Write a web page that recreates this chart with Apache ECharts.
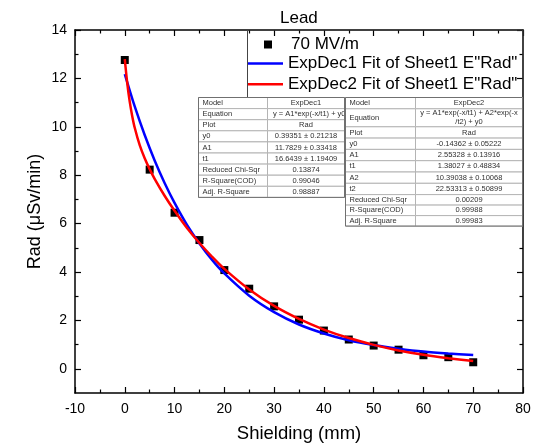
<!DOCTYPE html>
<html>
<head>
<meta charset="utf-8">
<script src="https://cdn.jsdelivr.net/npm/echarts@6/dist/echarts.min.js"></script>
<style>html,body{margin:0;padding:0;background:#fff}#c{width:536px;height:447px}</style>
</head>
<body>
<div id="c"></div>
<script>
// ---- data ----
const shielding = [0,5,10,15,20,25,30,35,40,45,50,55,60,65,70];
const rad = [12.76,8.23,6.45,5.32,4.08,3.31,2.58,2.03,1.58,1.21,0.96,0.79,0.56,0.48,0.27];
const fit1X = [0,2,4,6,8,10,12.5,15,17.5,20,25,30,35,40,45,50,55,60,65,70];
const fit1Y = [12.18,10.84,9.66,8.61,7.68,6.86,5.95,5.18,4.51,3.94,3.02,2.34,1.83,1.46,1.18,0.98,0.83,0.71,0.63,0.57];
const fit2X = [0,0.5,1,1.5,2,3,4,5,6,8,10,12.5,15,17.5,20,25,30,35,40,45,50,55,60,65,70];
const fit2Y = [12.80,11.80,11.03,10.44,9.96,9.24,8.70,8.25,7.85,7.15,6.53,5.82,5.20,4.64,4.13,3.28,2.60,2.06,1.62,1.27,0.99,0.76,0.58,0.44,0.32];
const yMajorTicks = [0,2,4,6,8,10,12,14];
const yMinorTicks = [1,3,5,7,9,11,13];
const xMinorTicks = [-5,5,15,25,35,45,55,65,75];
const seriesNames = ['70 MV/m', 'ExpDec1 Fit of Sheet1 E"Rad"', 'ExpDec2 Fit of Sheet1 E"Rad"'];
const table1Labels = ['Model','Equation','Plot','y0','A1','t1','Reduced Chi-Sqr','R-Square(COD)','Adj. R-Square'];
const table1Values = ['ExpDec1','y = A1*exp(-x/t1) + y0','Rad','0.39351 \u00b1 0.21218','11.7829 \u00b1 0.33418','16.6439 \u00b1 1.19409','0.13874','0.99046','0.98887'];
const table2Labels = ['Model','Equation','Plot','y0','A1','t1','A2','t2','Reduced Chi-Sqr','R-Square(COD)','Adj. R-Square'];
const table2Values = ['ExpDec2','y = A1*exp(-x/t1) + A2*exp(-x\n/t2) + y0','Rad','-0.14362 \u00b1 0.05222','2.55328 \u00b1 0.13916','1.38027 \u00b1 0.48834','10.39038 \u00b1 0.10068','22.53313 \u00b1 0.50899','0.00209','0.99988','0.99983'];

const pts = shielding.map((x,i)=>[x, rad[i]]);
const f1 = fit1X.map((x,i)=>[x, fit1Y[i]]);
const f2 = fit2X.map((x,i)=>[x, fit2Y[i]]);

const FONT = 'Liberation Sans, Arial, sans-serif';

function buildTable(labels, values, x0, xs, x1, top, heights, z, valueAlignLeftX) {
  const els = [];
  let y = top;
  const textStyle = {fontSize: 7.5, fontFamily: FONT, fill: '#303030'};
  labels.forEach((lab, i) => {
    const h = heights[i];
    els.push({type:'rect', z: z, shape:{x:x0, y:y, width:xs-x0, height:h}, style:{fill:'#fff', stroke:'#b4b4b4', lineWidth:1}});
    els.push({type:'rect', z: z, shape:{x:xs, y:y, width:x1-xs, height:h}, style:{fill:'#fff', stroke:'#b4b4b4', lineWidth:1}});
    els.push({type:'text', z: z, style: Object.assign({text: lab, x: x0+4, y: y+h/2, align:'left', verticalAlign:'middle'}, textStyle)});
    const v = values[i];
    if (valueAlignLeftX && lab === 'Equation') {
      els.push({type:'text', z: z, style: Object.assign({text: v, x: valueAlignLeftX, y: y+h/2, align:'left', verticalAlign:'middle'}, textStyle)});
    } else {
      els.push({type:'text', z: z, style: Object.assign({text: v, x: (xs+x1)/2, y: y+h/2, align:'center', verticalAlign:'middle', lineHeight: 9}, textStyle)});
    }
    y += h;
  });
  els.push({type:'rect', z: z, shape:{x:x0, y:top, width:x1-x0, height:y-top}, style:{fill:'none', stroke:'#707070', lineWidth:1}});
  return els;
}

const t1Heights = table1Labels.map(()=>11.1);
const t2Heights = [11.3,18,11.3,11.3,11.3,11.3,11.3,11.3,10.5,10.5,10.5];

const graphics = [
  {type:'rect', z: 5, shape:{x:247.5, y:30, width:275.5, height:72}, style:{fill:'none', stroke:'#444', lineWidth:1}}
].concat(
  buildTable(table1Labels, table1Values, 198.5, 267.5, 344.5, 97.5, t1Heights, 10, 273)
).concat(
  buildTable(table2Labels, table2Values, 345.5, 415.5, 522.5, 97.5, t2Heights, 11, null)
);

const lineBlack = {color: '#000', width: 1.5};
const tickStyle = {color: '#000', width: 1.2};

function majorAxis(pos, extra) {
  return Object.assign({
    type: 'value', position: pos,
    axisLine: {show: true, onZero: false, lineStyle: lineBlack},
    splitLine: {show: false},
    axisTick: {show: true, inside: true, length: 6, lineStyle: tickStyle},
    axisLabel: {show: false}
  }, extra);
}
function minorAxis(pos, ticks, extra) {
  return Object.assign({
    type: 'value', position: pos,
    axisLine: {show: false, onZero: false},
    splitLine: {show: false},
    axisTick: {show: true, inside: true, length: 3.5, customValues: ticks, lineStyle: tickStyle},
    axisLabel: {show: false, customValues: ticks}
  }, extra);
}

const xr = {min: -10, max: 80, interval: 10};
const yr = {min: -1, max: 14};

const chart = echarts.init(document.getElementById('c'), null, {renderer: 'canvas'});
chart.setOption({
  animation: false,
  backgroundColor: '#fff',
  title: {text: 'Lead', left: 275, top: 5, textStyle: {fontSize: 17, fontWeight: 'normal', color: '#000', fontFamily: FONT}},
  grid: {left: 75, right: 13, top: 30, bottom: 54, containLabel: false, outerBoundsMode: 'none'},
  legend: [
    {data: [{name: seriesNames[0], icon: 'rect'}], left: 264, top: 36, padding: 0, itemWidth: 8, itemHeight: 8, selectedMode: false,
     textStyle: {fontSize: 17, color: '#000', fontFamily: FONT, padding: [0,0,0,14]}},
    {data: [{name: seriesNames[1], icon: 'rect'}, {name: seriesNames[2], icon: 'rect'}], orient: 'vertical', left: 247, top: 54, padding: 0,
     itemWidth: 36, itemHeight: 2.5, itemGap: 1.8, selectedMode: false,
     textStyle: {fontSize: 17, color: '#000', fontFamily: FONT, lineHeight: 19}}
  ],
  xAxis: [
    majorAxis('bottom', Object.assign({}, xr, {
      name: 'Shielding (mm)', nameLocation: 'middle', nameGap: 31,
      nameTextStyle: {fontSize: 18.5, color: '#000', fontFamily: FONT},
      axisLabel: {show: true, color: '#000', fontSize: 14, fontFamily: FONT, margin: 9}
    })),
    minorAxis('bottom', xMinorTicks, xr),
    majorAxis('top', xr),
    minorAxis('top', xMinorTicks, xr)
  ],
  yAxis: [
    majorAxis('left', Object.assign({}, yr, {
      name: 'Rad (\u03bcSv/min)', nameLocation: 'middle', nameGap: 31, nameMoveOverlap: false,
      nameTextStyle: {fontSize: 18, color: '#000', fontFamily: FONT},
      axisTick: {show: true, inside: true, length: 6, customValues: yMajorTicks, lineStyle: tickStyle},
      axisLabel: {show: true, color: '#000', fontSize: 14, fontFamily: FONT, margin: 8, customValues: yMajorTicks}
    })),
    minorAxis('left', yMinorTicks, yr),
    majorAxis('right', Object.assign({}, yr, {
      axisTick: {show: true, inside: true, length: 6, customValues: yMajorTicks, lineStyle: tickStyle},
      axisLabel: {show: false, customValues: yMajorTicks}
    })),
    minorAxis('right', yMinorTicks, yr)
  ],
  graphic: graphics,
  series: [
    {name: seriesNames[0], type: 'scatter', data: pts, symbol: 'rect', symbolSize: 8, itemStyle: {color: '#000', opacity: 1}, z: 2, xAxisIndex: 0, yAxisIndex: 0},
    {name: seriesNames[1], type: 'line', data: f1, smooth: 0.3, symbol: 'none', lineStyle: {color: '#0000ff', width: 2.5}, itemStyle: {color: '#0000ff'}, z: 3, xAxisIndex: 0, yAxisIndex: 0},
    {name: seriesNames[2], type: 'line', data: f2, smooth: 0.3, symbol: 'none', lineStyle: {color: '#ff0000', width: 2.5}, itemStyle: {color: '#ff0000'}, z: 4, xAxisIndex: 0, yAxisIndex: 0}
  ]
});
</script>
</body>
</html>
